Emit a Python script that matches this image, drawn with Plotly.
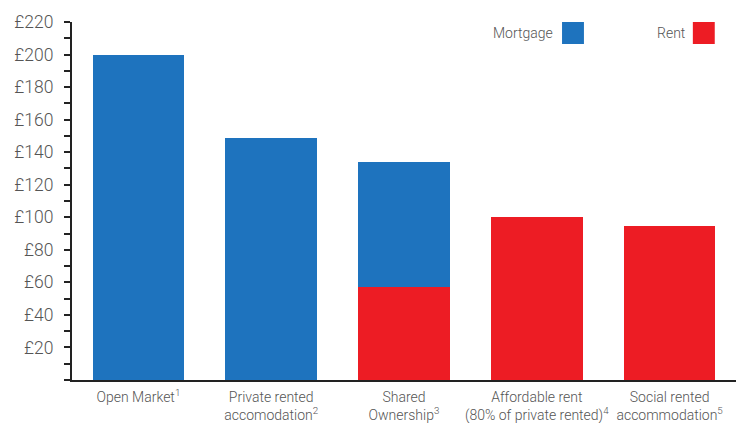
import plotly.graph_objects as go

categories = ["Open Market<sup>1</sup>",
              "Private rented<br>accomodation<sup>2</sup>",
              "Shared<br>Ownership<sup>3</sup>",
              "Affordable rent<br>(80% of private rented)<sup>4</sup>",
              "Social rented<br>accommodation<sup>5</sup>"]
mortgage = [200, 149, 77, 0, 0]
rent = [0, 0, 57, 100, 94.5]
ytick_vals = [20, 40, 60, 80, 100, 120, 140, 160, 180, 200, 220]
ytick_text = ["£%d" % v for v in ytick_vals]

BLUE = "#1E73BE"
RED = "#ED1C24"
GRAY = "#555555"
FONT = "Roboto"

fig = go.Figure()
fig.add_trace(go.Bar(x=categories, y=rent, marker_color=RED, marker_line_width=0,
                     name="Rent", showlegend=False))
fig.add_trace(go.Bar(x=categories, y=mortgage, marker_color=BLUE, marker_line_width=0,
                     name="Mortgage", showlegend=False))

fig.update_layout(
    width=736, height=423,
    margin=dict(l=72, r=0, t=22, b=43),
    barmode="stack", bargap=0.31,
    plot_bgcolor="white", paper_bgcolor="white",
    font=dict(family=FONT, color=GRAY, weight=300),
    xaxis=dict(showline=True, linecolor="#222", linewidth=2, ticks="",
               ticklabelstandoff=3,
               tickfont=dict(size=14, color=GRAY, family=FONT, weight=300)),
    yaxis=dict(range=[0, 220], tickmode="array", tickvals=ytick_vals, ticktext=ytick_text,
               showgrid=False, zeroline=False, showline=True, linecolor="#222", linewidth=2,
               ticks="outside", ticklen=6, tickcolor="#222", tickwidth=1.5,
               tickfont=dict(size=17.5, color=GRAY, family=FONT, weight=300),
               ticklabelstandoff=7,
               minor=dict(dtick=10, tick0=0, ticks="outside", ticklen=6, tickcolor="#222", tickwidth=1.5)),
)

# legend drawn manually (text left of swatch)
for label, color, tx, sx0, sx1 in [("Mortgage", BLUE, 0.727, 0.738, 0.771),
                                    ("Rent", RED, 0.926, 0.935, 0.968)]:
    fig.add_shape(type="rect", xref="paper", yref="paper", x0=sx0, x1=sx1, y0=0.9385, y1=1.0,
                  fillcolor=color, line=dict(width=0))
    fig.add_annotation(xref="paper", yref="paper", x=tx, y=0.969, text=label, showarrow=False,
                       xanchor="right", yanchor="middle",
                       font=dict(size=14, color=GRAY, family=FONT, weight=300))

fig.write_html("out.html")
